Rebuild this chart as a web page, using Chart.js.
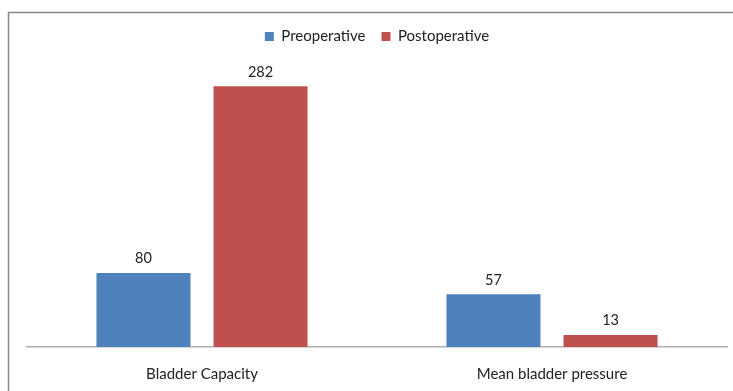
<!DOCTYPE html>
<html>
<head>
<meta charset="utf-8">
<script src="https://cdn.jsdelivr.net/npm/chart.js@4/dist/chart.umd.min.js"></script>
<style>
  html, body { margin: 0; padding: 0; background: #fff; }
  #wrap { position: relative; width: 733px; height: 391px; overflow: hidden; }
  canvas { display: block; }
</style>
</head>
<body>
<div id="wrap"><canvas id="c" width="733" height="401"></canvas></div>
<script>
const categories = ['Bladder Capacity', 'Mean bladder pressure'];
const preoperative = [80, 57];
const postoperative = [282, 13];
const seriesNames = ['Preoperative', 'Postoperative'];

const FONT = 'Lato, "Open Sans", sans-serif';

// outer frame of the chart box
const framePlugin = {
  id: 'frame',
  beforeDraw(chart) {
    const ctx = chart.ctx;
    ctx.save();
    ctx.strokeStyle = '#8a8a8a';
    ctx.lineWidth = 1.5;
    ctx.strokeRect(8.5, 12.5, 900, 600);
    ctx.restore();
  }
};

// value labels above each bar
const valueLabels = {
  id: 'valueLabels',
  afterDatasetsDraw(chart) {
    const ctx = chart.ctx;
    ctx.save();
    ctx.font = '14.5px ' + FONT;
    ctx.fillStyle = '#222';
    ctx.textAlign = 'center';
    ctx.textBaseline = 'bottom';
    chart.data.datasets.forEach((ds, i) => {
      chart.getDatasetMeta(i).data.forEach((bar, j) => {
        ctx.fillText(String(ds.data[j]), bar.x, bar.y - 7);
      });
    });
    ctx.restore();
  }
};

new Chart(document.getElementById('c'), {
  type: 'bar',
  data: {
    labels: categories,
    datasets: [
      { label: seriesNames[0], data: preoperative, backgroundColor: '#4f81bd', borderWidth: 0 },
      { label: seriesNames[1], data: postoperative, backgroundColor: '#c0504d', borderWidth: 0 }
    ]
  },
  options: {
    responsive: false,
    animation: false,
    devicePixelRatio: 1,
    categoryPercentage: 0.669,
    barPercentage: 0.803,
    layout: { padding: { left: 27, right: 6, top: 13, bottom: 0 } },
    plugins: {
      tooltip: { enabled: false },
      legend: {
        position: 'top',
        labels: {
          font: { family: FONT, size: 15 },
          color: '#222',
          boxWidth: 9,
          boxHeight: 9,
          padding: 16
        }
      }
    },
    scales: {
      x: {
        grid: { display: false, drawTicks: false },
        border: { display: true, color: '#b0b0b0', width: 1.5 },
        ticks: { font: { family: FONT, size: 15 }, color: '#222', padding: 18 }
      },
      y: {
        display: false,
        min: 0,
        max: 317
      }
    }
  },
  plugins: [framePlugin, valueLabels]
});
</script>
</body>
</html>
